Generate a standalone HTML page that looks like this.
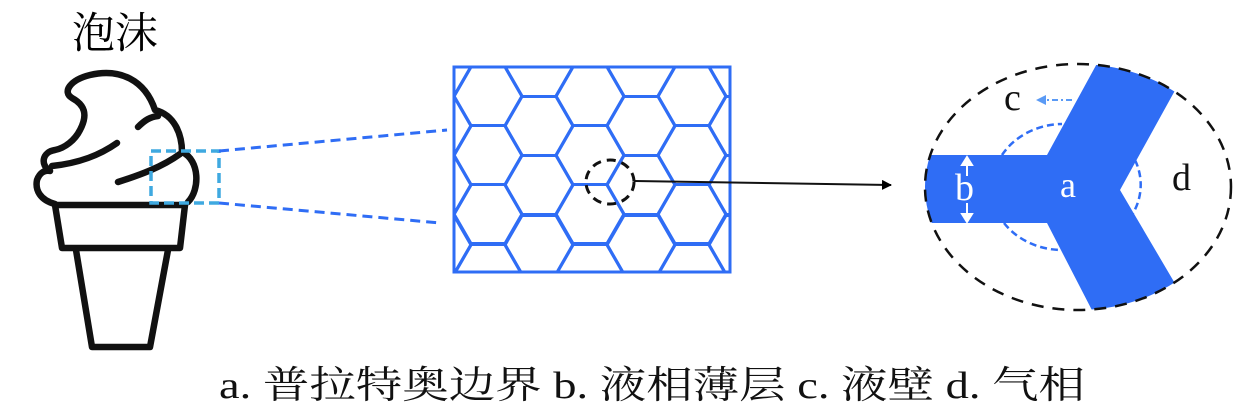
<!DOCTYPE html>
<html><head><meta charset="utf-8"><style>
html,body{margin:0;padding:0;background:#fff;}
svg{display:block;}
text{font-family:"Liberation Serif","Noto Serif CJK SC","Noto Sans CJK SC",serif;}
</style></head><body>
<svg width="1260" height="419" viewBox="0 0 1260 419" xmlns="http://www.w3.org/2000/svg">
<defs>
<clipPath id="hc"><rect x="455" y="68" width="274" height="203"/></clipPath>
<clipPath id="ec"><ellipse cx="1078" cy="187" rx="153" ry="123"/></clipPath>
<g id="hex"><polygon points="-34,0 -17,-29.5 17,-29.5 34,0 17,29.5 -17,29.5" fill="none" stroke="#2f6df5" stroke-width="3"/></g>
<marker id="ah" markerWidth="10" markerHeight="10" refX="9" refY="5" orient="auto" markerUnits="userSpaceOnUse"><path d="M0,0 L10,5 L0,10 z" fill="#000"/></marker>
</defs>
<!-- title -->
<text x="72" y="48" font-size="43" font-family="Noto Serif CJK SC, serif" textLength="86" lengthAdjust="spacingAndGlyphs">泡沫</text>
<!-- ice cream -->
<g fill="none" stroke="#111" stroke-width="6.5" stroke-linejoin="round" stroke-linecap="round">
<path d="M55,205 L185,205 L180,248 L62,248 Z"/>
<path d="M76,250 L92,347 L150,347 L168,250"/>
<path d="M55,204 C40,200 35,190 37,180 C40,172 45,170 50,171 C40,165 42,152 55,150 C65,148 75,140 80,130 C88,115 85,105 72,98 C62,92 70,80 90,75 C120,68 145,80 155,110 C175,115 182,135 182,152 C200,160 200,190 188,202"/>
<path d="M138,127 C145,120 150,117 158,116"/>
<path d="M117,143 C100,155 80,163 52,166"/>
<path d="M118,182 C140,175 162,167 180,154"/>
</g>
<!-- blue zoom rect and lines -->
<rect x="151" y="151" width="68" height="52" fill="none" stroke="#3fa9e0" stroke-width="3.5" stroke-dasharray="10,5"/>
<line x1="219" y1="151" x2="447" y2="130" stroke="#2f6df5" stroke-width="3" stroke-dasharray="10,6"/>
<line x1="219" y1="203" x2="440" y2="223" stroke="#2f6df5" stroke-width="3" stroke-dasharray="10,6"/>
<!-- honeycomb -->
<g clip-path="url(#hc)">
<use href="#hex" x="437" y="126"/><use href="#hex" x="437" y="185"/><use href="#hex" x="437" y="245"/><use href="#hex" x="437" y="67"/>
<use href="#hex" x="488" y="96"/><use href="#hex" x="488" y="155"/><use href="#hex" x="488" y="214"/><use href="#hex" x="488" y="274"/>
<use href="#hex" x="539" y="67"/><use href="#hex" x="539" y="126"/><use href="#hex" x="539" y="185"/><use href="#hex" x="539" y="245"/>
<use href="#hex" x="590" y="96"/><use href="#hex" x="590" y="155"/><use href="#hex" x="590" y="214"/><use href="#hex" x="590" y="274"/>
<use href="#hex" x="641" y="67"/><use href="#hex" x="641" y="126"/><use href="#hex" x="641" y="185"/><use href="#hex" x="641" y="245"/>
<use href="#hex" x="692" y="96"/><use href="#hex" x="692" y="155"/><use href="#hex" x="692" y="214"/><use href="#hex" x="692" y="274"/>
<use href="#hex" x="743" y="67"/><use href="#hex" x="743" y="126"/><use href="#hex" x="743" y="185"/><use href="#hex" x="743" y="245"/>
</g>
<rect x="454" y="67" width="276" height="205" fill="none" stroke="#2f6df5" stroke-width="3"/>
<!-- black dashed circle and arrow -->
<ellipse cx="610" cy="182" rx="24" ry="22" fill="none" stroke="#111" stroke-width="3" stroke-dasharray="9,6"/>
<line x1="634" y1="181" x2="891" y2="185" stroke="#111" stroke-width="2" marker-end="url(#ah)"/>
<!-- right panel -->
<g clip-path="url(#ec)">
<polygon points="920,155 1047,155 1100,58 1178,85 1120,190 1180,292 1096,318 1047,223 920,223" fill="#2f6df5"/>
</g>
<ellipse cx="1078" cy="187" rx="153" ry="123" fill="none" stroke="#111" stroke-width="2.5" stroke-dasharray="12,9"/>
<path d="M1002,155 A71,63 0 0 1 1062,124" fill="none" stroke="#2f6df5" stroke-width="2.5" stroke-dasharray="7,4"/>
<path d="M1004,223 A71,63 0 0 0 1062,250" fill="none" stroke="#2f6df5" stroke-width="2.5" stroke-dasharray="7,4"/>
<path d="M1135,160 A71,63 0 0 1 1132,215" fill="none" stroke="#2f6df5" stroke-width="2.5" stroke-dasharray="7,4"/>
<!-- white b arrows -->
<g stroke="#fff" stroke-width="2" fill="#fff">
<line x1="967" y1="162" x2="967" y2="176"/><polygon points="962,165 967,157 972,165"/>
<line x1="967" y1="203" x2="967" y2="218"/><polygon points="962,214 967,222 972,214"/>
</g>
<text x="955" y="200" font-size="38" fill="#fff">b</text>
<text x="1060" y="197" font-size="36" fill="#fff">a</text>
<text x="1004" y="110" font-size="38" fill="#111">c</text>
<text x="1172" y="190" font-size="38" fill="#111">d</text>
<line x1="1072" y1="100" x2="1044" y2="100" stroke="#5a9af5" stroke-width="2" stroke-dasharray="6,3,2,3"/>
<polygon points="1036,100 1046,95 1046,105" fill="#5a9af5"/>
<!-- caption -->
<text x="219" y="398" font-size="38" textLength="866" lengthAdjust="spacingAndGlyphs" fill="#111">a. 普拉特奥边界 b. 液相薄层 c. 液壁 d. 气相</text>
</svg>
</body></html>
